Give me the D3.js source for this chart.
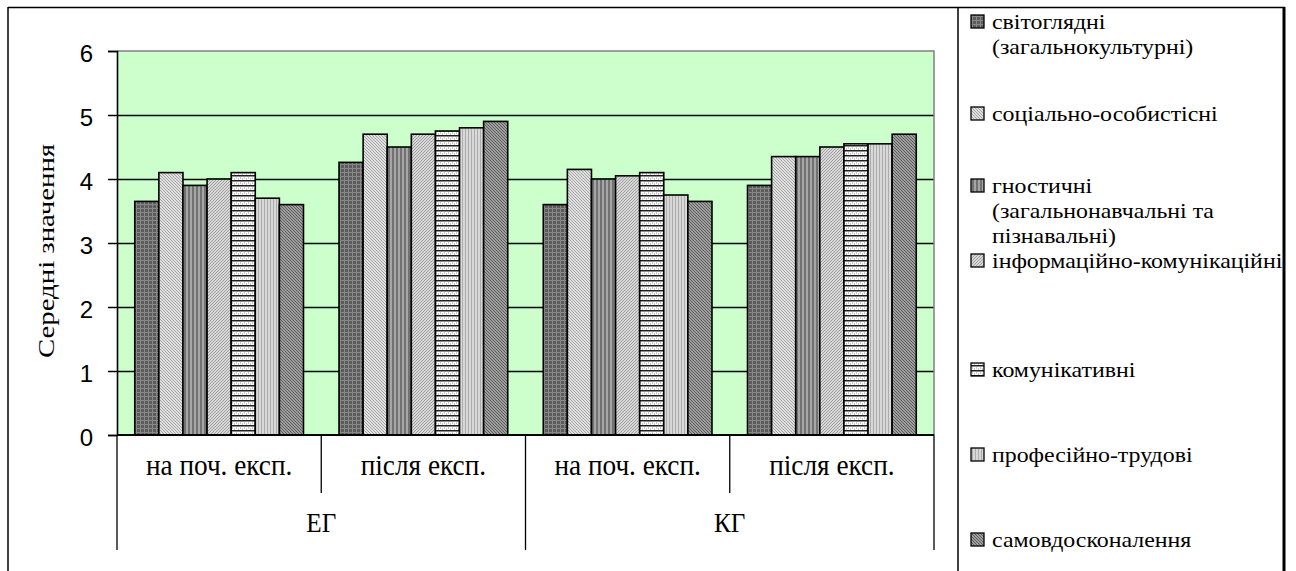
<!DOCTYPE html>
<html><head><meta charset="utf-8">
<script src="https://cdn.jsdelivr.net/npm/d3@7/dist/d3.min.js"></script>
<style>html,body{margin:0;padding:0;background:#fff}svg{display:block}</style>
</head><body>
<svg id="c" width="1296" height="571"></svg>
<script>
// ---- data ----
const subCategories = ["на поч. експ.", "після експ.", "на поч. експ.", "після експ."];
const groups = ["ЕГ", "КГ"];
const seriesNames = ["світоглядні (загальнокультурні)", "соціально-особистісні", "гностичні (загальнонавчальні та пізнавальні)", "інформаційно-комунікаційні", "комунікативні", "професійно-трудові", "самовдосконалення"];
const legendLines = [["світоглядні", "(загальнокультурні)"], ["соціально-особистісні"], ["гностичні", "(загальнонавчальні та", "пізнавальні)"], ["інформаційно-комунікаційні"], ["комунікативні"], ["професійно-трудові"], ["самовдосконалення"]];
const svitogliadni = [3.65, 4.26, 3.6, 3.9];
const sotsialni = [4.1, 4.7, 4.15, 4.35];
const hnostychni = [3.9, 4.5, 4.0, 4.35];
const informatsiini = [4.0, 4.7, 4.05, 4.5];
const komunikatyvni = [4.1, 4.75, 4.1, 4.55];
const profesiini = [3.7, 4.8, 3.75, 4.55];
const samovdoskonalennia = [3.6, 4.9, 3.65, 4.7];
const seriesValues = [svitogliadni, sotsialni, hnostychni, informatsiini, komunikatyvni, profesiini, samovdoskonalennia];
const yTicks = [0, 1, 2, 3, 4, 5, 6];
const yTitle = "Середні значення";

// ---- layout ----
const svg = d3.select("#c");
const P = {l: 117, r: 934, t: 51, b: 435};
const SERIF = '"Liberation Serif", "Times New Roman", serif';
const SANS = '"Liberation Sans", Arial, sans-serif';

function stext(parent, x, y, txt, size, sx, anchor, rot) {
  return parent.append("text")
    .attr("transform", `translate(${x},${y})${rot ? ` rotate(${rot})` : ""} scale(${sx},1)`)
    .attr("text-anchor", anchor || "start")
    .style("font-family", SERIF).style("font-size", size + "px")
    .attr("fill", "#000").text(txt);
}

// patterns
const defs = svg.append("defs");
function pat(id, w, h, bg, draw) {
  const p = defs.append("pattern").attr("id", id).attr("patternUnits", "userSpaceOnUse").attr("width", w).attr("height", h);
  p.append("rect").attr("width", w).attr("height", h).attr("fill", bg);
  draw(p);
}
pat("p0", 4, 4, "#5c5c5c", p => {
  p.append("rect").attr("x", 0).attr("y", 0).attr("width", 4).attr("height", 1).attr("fill", "#888888");
  p.append("rect").attr("x", 0).attr("y", 0).attr("width", 1).attr("height", 4).attr("fill", "#888888");
});
pat("p1", 3, 3, "#dedede", p => {
  [[0,0],[1,1],[2,2]].forEach(([x,y]) => p.append("rect").attr("x", x).attr("y", y).attr("width", 1).attr("height", 1).attr("fill", "#a8a8a8"));
});
pat("p2", 4, 4, "#a6a6a6", p => {
  p.append("rect").attr("x", 0).attr("y", 0).attr("width", 2).attr("height", 4).attr("fill", "#727272");
});
pat("p3", 3, 3, "#d6d6d6", p => {
  [[2,0],[1,1],[0,2]].forEach(([x,y]) => p.append("rect").attr("x", x).attr("y", y).attr("width", 1).attr("height", 1).attr("fill", "#a2a2a2"));
});
pat("p4", 4, 5, "#ffffff", p => {
  p.append("rect").attr("x", 0).attr("y", 0).attr("width", 4).attr("height", 1.5).attr("fill", "#202020");
  p.append("rect").attr("x", 0).attr("y", 2.5).attr("width", 1).attr("height", 1).attr("fill", "#909090");
  p.append("rect").attr("x", 2).attr("y", 3.5).attr("width", 1).attr("height", 1).attr("fill", "#909090");
});
pat("p5", 3, 3, "#d8d8d8", p => {
  p.append("rect").attr("x", 0).attr("y", 0).attr("width", 1).attr("height", 3).attr("fill", "#acacac");
});
pat("p6", 3, 3, "#9c9c9c", p => {
  [[0,0],[1,1],[2,2]].forEach(([x,y]) => p.append("rect").attr("x", x).attr("y", y).attr("width", 1).attr("height", 1).attr("fill", "#606060"));
});

// frame
svg.append("line").attr("x1", 8).attr("x2", 1285).attr("y1", 7.5).attr("y2", 7.5).attr("stroke", "#000").attr("stroke-width", 1.5);
svg.append("line").attr("x1", 8).attr("x2", 8).attr("y1", 7).attr("y2", 571).attr("stroke", "#000").attr("stroke-width", 1.5);
svg.append("line").attr("x1", 958).attr("x2", 958).attr("y1", 7).attr("y2", 571).attr("stroke", "#000").attr("stroke-width", 1.5);
svg.append("line").attr("x1", 1284).attr("x2", 1284).attr("y1", 7).attr("y2", 571).attr("stroke", "#000").attr("stroke-width", 3);

// scales
const y = d3.scaleLinear().domain([0, 6]).range([P.b, P.t]);
const catIdx = d3.range(subCategories.length);
const x0 = d3.scaleBand().domain(catIdx).range([P.l, P.r]).padding(0);
const x1 = d3.scaleBand().domain(d3.range(seriesNames.length)).range([0, x0.bandwidth()]).paddingInner(0).paddingOuter(0.737);

// plot background
svg.append("rect").attr("x", P.l).attr("y", P.t).attr("width", P.r - P.l).attr("height", P.b - P.t).attr("fill", "#ccffcc");
// gridlines
svg.append("g").selectAll("line").data(yTicks.filter(t => t > 0 && t < 6)).join("line")
  .attr("x1", P.l).attr("x2", P.r).attr("y1", d => y(d) + 0.5).attr("y2", d => y(d) + 0.5).attr("stroke", "#000").attr("stroke-width", 1.3);
// plot border (top/right grey)
svg.append("path").attr("d", `M${P.l},${y(6)}H${P.r}V${P.b}`).attr("fill", "none").attr("stroke", "#808080").attr("stroke-width", 1.5);

// bars
const gBars = svg.append("g");
seriesValues.forEach((vals, si) => {
  gBars.selectAll(null).data(vals).join("rect")
    .attr("x", (d, i) => x0(i) + x1(si))
    .attr("y", d => y(d))
    .attr("width", x1.bandwidth())
    .attr("height", d => y(0) - y(d))
    .attr("fill", `url(#p${si})`)
    .attr("stroke", "#000").attr("stroke-width", 1.6);
});

// y axis
const yAxis = d3.axisLeft(y).tickValues(yTicks).tickSize(9).tickFormat(d3.format("d"));
const ga = svg.append("g").attr("transform", `translate(${P.l},0)`).call(yAxis);
ga.select(".domain").attr("stroke", "#000").attr("stroke-width", 1.6);
ga.selectAll(".tick line").attr("stroke", "#000").attr("stroke-width", 1.5);
ga.selectAll(".tick text").style("font-family", SANS).style("font-size", "24px").attr("fill", "#000")
  .attr("x", -24).attr("dy", "0.36em").attr("y", 2);

// x axis baseline
svg.append("line").attr("x1", P.l).attr("x2", P.r).attr("y1", P.b).attr("y2", P.b).attr("stroke", "#000").attr("stroke-width", 2);
// category separators
const seps = d3.range(subCategories.length + 1);
svg.append("g").selectAll("line").data(seps).join("line")
  .attr("x1", d => d < subCategories.length ? x0(d) : P.r).attr("x2", d => d < subCategories.length ? x0(d) : P.r)
  .attr("y1", P.b).attr("y2", d => d % 2 === 0 ? 550 : 493)
  .attr("stroke", "#000").attr("stroke-width", 1.3);
// sub labels
const gx = svg.append("g");
subCategories.forEach((t, i) => stext(gx, x0(i) + x0.bandwidth() / 2, 475, t, 29, 0.94, "middle"));
groups.forEach((t, i) => stext(gx, x0(i * 2) + x0.bandwidth(), 532, t, 28, 0.9, "middle"));

// y title
stext(svg, 46, (P.t + P.b) / 2 + 8, yTitle, 24, 1.2, "middle", -90).attr("dy", "0.35em");

// legend
const legendBase = [29, 121, 193, 268, 377, 462, 547];
const lineH = 25;
const lg = svg.append("g");
legendLines.forEach((lines, i) => {
  const b = legendBase[i];
  lg.append("rect").attr("x", 971).attr("y", b - 14).attr("width", 13).attr("height", 13)
    .attr("fill", `url(#p${i})`).attr("stroke", "#000").attr("stroke-width", 1.3);
  lines.forEach((t, j) => stext(lg, 992, b + j * lineH, t, 22, 1.085, "start"));
});
</script>
</body></html>
